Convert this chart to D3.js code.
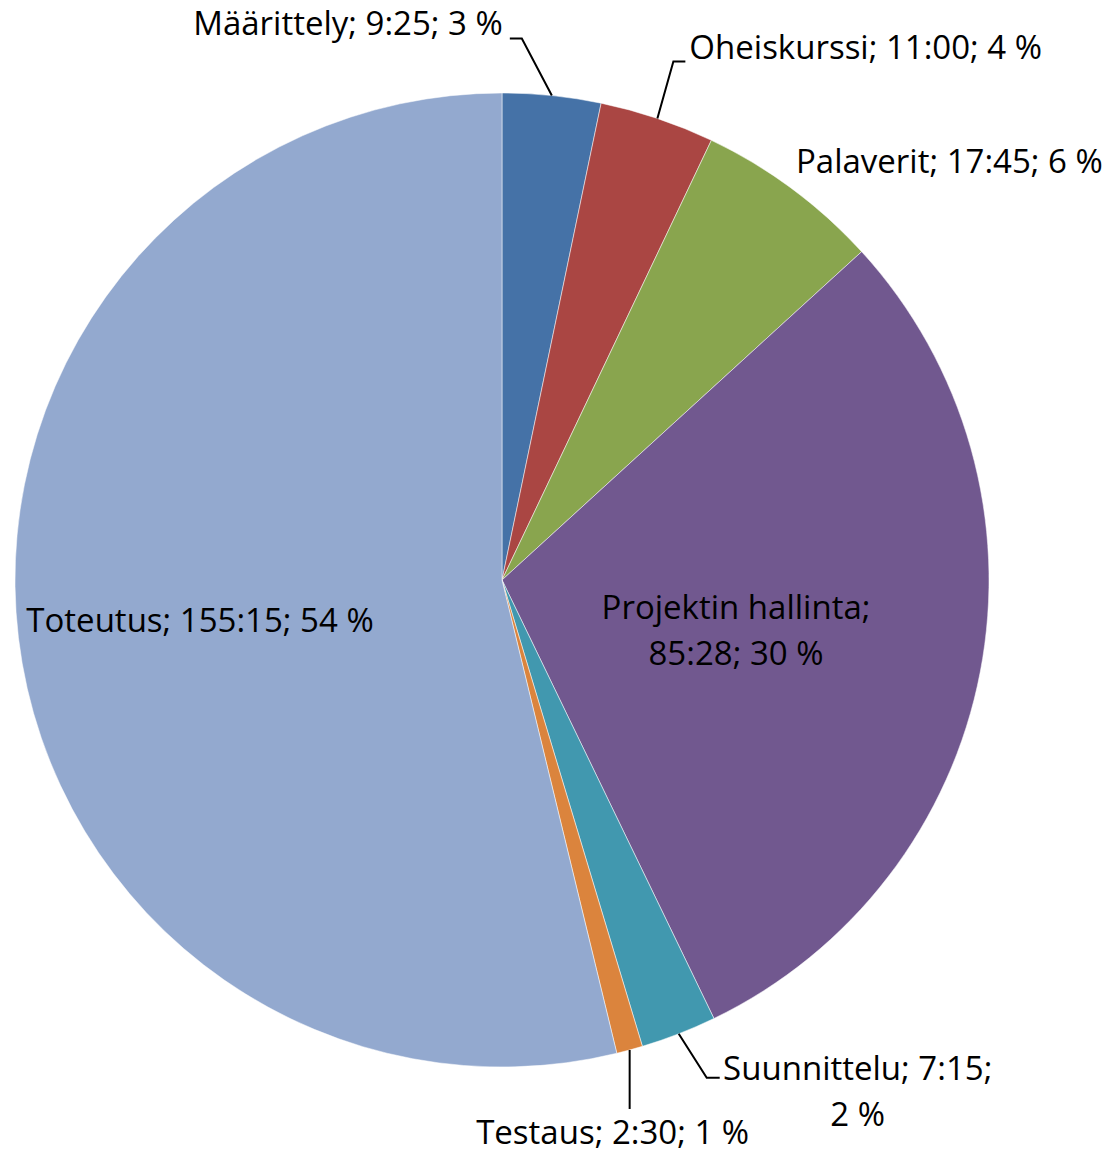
<!DOCTYPE html>
<html>
<head>
<meta charset="utf-8">
<script src="https://cdn.jsdelivr.net/npm/d3@7"></script>
<style>
  body { margin: 0; background: #fff; }
  text { font-family: "Open Sans", sans-serif; fill: #000; }
</style>
</head>
<body>
<svg id="chart" width="1108" height="1153"></svg>
<script>
// tuntikirjanpito, h:mm
const categories = ['Määrittely', 'Oheiskurssi', 'Palaverit', 'Projektin hallinta', 'Suunnittelu', 'Testaus', 'Toteutus'];
const timeLabels = ['9:25', '11:00', '17:45', '85:28', '7:15', '2:30', '155:15'];
const percentLabels = ['3 %', '4 %', '6 %', '30 %', '2 %', '1 %', '54 %'];
const colors = ['#4572A7', '#AA4643', '#89A54E', '#71588F', '#4198AF', '#DB843D', '#93A9CF'];

const toHours = t => {
    const parts = t.split(':')
    return +parts[0] + +parts[1] / 60
}
const hours = timeLabels.map(toHours)

const cx = 502, cy = 580, radius = 487
const fontSize = 33
const lineGap = 46

// label placement, relative to the slice edge point at mid angle
// kind: 'leader' draws a polyline, 'vertical' a straight drop, 'free' is absolute
const labelLayout = {
    'Määrittely':        { kind: 'leader', bend: [-30, -57], tail: -12, anchor: 'end', dx: -7, dy: -4, split: false },
    'Oheiskurssi':       { kind: 'leader', bend: [16, -57], tail: 12, anchor: 'start', dx: 4, dy: -2, split: false },
    'Palaverit':         { kind: 'free', x: 796, y: 173, anchor: 'start', split: false },
    'Projektin hallinta':{ kind: 'free', x: 736, y: 619, anchor: 'middle', split: 'name' },
    'Suunnittelu':       { kind: 'leader', bend: [28, 44], tail: 13, anchor: 'middle', dx: 138, dy: 2, split: 'pct' },
    'Testaus':           { kind: 'vertical', len: 59, anchor: 'middle', dx: -17, dy: 94, split: false },
    'Toteutus':          { kind: 'free', x: 200, y: 632, anchor: 'middle', split: false }
}

const svg = d3.select('#chart')
const g = svg.append('g').attr('transform', `translate(${cx},${cy})`)

const pie = d3.pie().sort(null).value(d => d.value)
const arc = d3.arc().innerRadius(0).outerRadius(radius)

const rows = categories.map((c, i) => ({
    name: c, value: hours[i], time: timeLabels[i], pct: percentLabels[i], color: colors[i]
}))
const arcs = pie(rows)

g.selectAll('path.slice')
    .data(arcs)
    .enter()
    .append('path')
    .attr('class', 'slice')
    .attr('d', arc)
    .attr('fill', d => d.data.color)
    .attr('stroke', '#fff')
    .attr('stroke-width', 0.5)

const edgePoint = d => {
    const a = (d.startAngle + d.endAngle) / 2
    return [cx + radius * Math.sin(a), cy - radius * Math.cos(a)]
}

const labels = svg.append('g')

arcs.forEach(d => {
    const lay = labelLayout[d.data.name]
    let lines
    if (lay.split == 'name') {
        lines = [`${d.data.name};`, `${d.data.time}; ${d.data.pct}`]
    } else if (lay.split == 'pct') {
        lines = [`${d.data.name}; ${d.data.time};`, d.data.pct]
    } else {
        lines = [`${d.data.name}; ${d.data.time}; ${d.data.pct}`]
    }

    let tx, ty
    const p = edgePoint(d)
    if (lay.kind == 'leader') {
        const b = [p[0] + lay.bend[0], p[1] + lay.bend[1]]
        const e = [b[0] + lay.tail, b[1]]
        labels.append('polyline')
            .attr('points', [p, b, e].map(q => q.join(',')).join(' '))
            .attr('fill', 'none')
            .attr('stroke', '#000')
            .attr('stroke-width', 2)
        tx = e[0] + lay.dx
        ty = e[1] + lay.dy
    } else if (lay.kind == 'vertical') {
        labels.append('line')
            .attr('x1', p[0]).attr('y1', p[1])
            .attr('x2', p[0]).attr('y2', p[1] + lay.len)
            .attr('stroke', '#000')
            .attr('stroke-width', 2)
        tx = p[0] + lay.dx
        ty = p[1] + lay.dy
    } else {
        tx = lay.x
        ty = lay.y
    }

    const t = labels.append('text')
        .attr('x', tx)
        .attr('y', ty)
        .attr('text-anchor', lay.anchor)
        .style('font-size', fontSize + 'px')
    lines.forEach((ln, i) => {
        t.append('tspan')
            .attr('x', tx)
            .attr('dy', i == 0 ? 0 : lineGap)
            .text(ln)
    })
})
</script>
</body>
</html>
